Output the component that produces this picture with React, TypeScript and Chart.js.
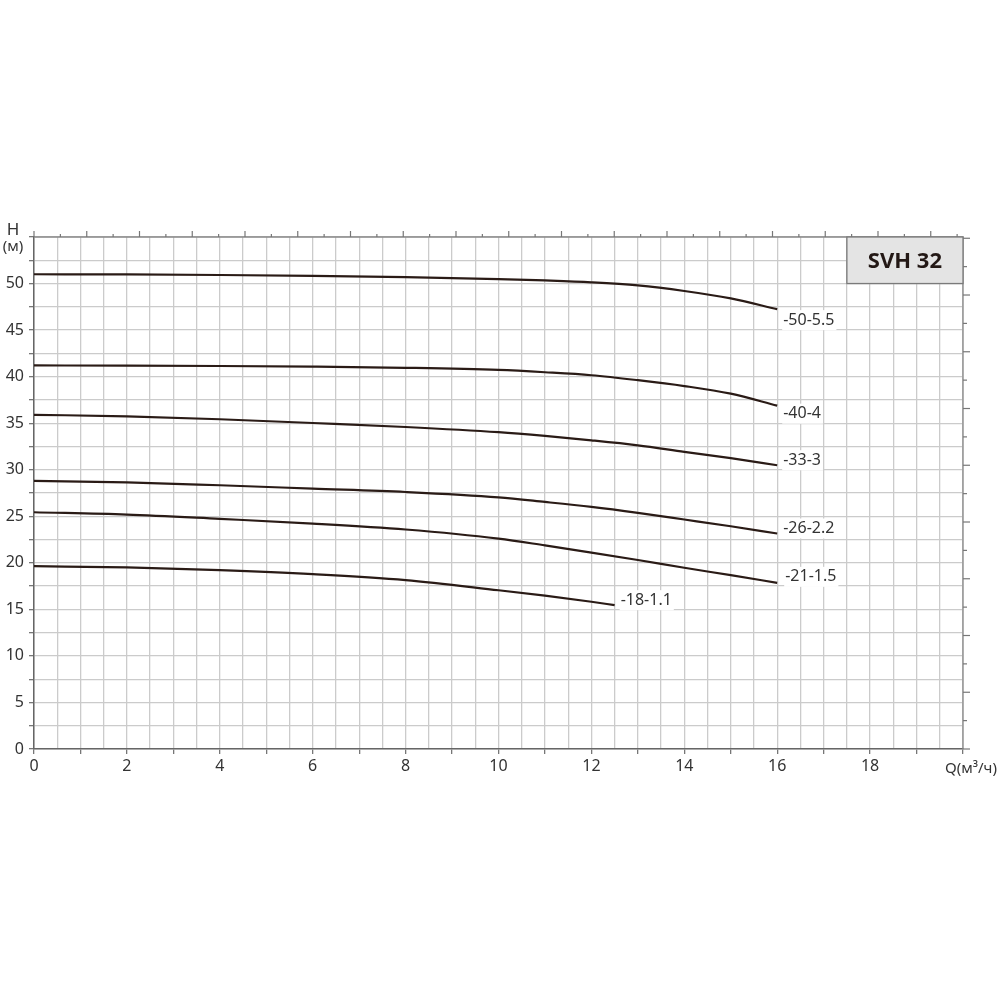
import React, { useEffect, useRef } from "react";
import { Chart, registerables } from "chart.js";

Chart.register(...registerables);

// ---- data ----
const Q_FULL = [0, 2, 4, 6, 8, 10, 11, 12, 13, 14, 15, 16];
const Q_SHORT = [0, 2, 4, 6, 8, 10, 11, 12, 12.5];
const H_50_55 = [51.0, 50.98, 50.92, 50.82, 50.68, 50.48, 50.33, 50.13, 49.8, 49.2, 48.4, 47.25];
const H_40_4 = [41.2, 41.18, 41.14, 41.07, 40.95, 40.72, 40.47, 40.15, 39.62, 38.99, 38.17, 36.88];
const H_33_3 = [35.9, 35.74, 35.42, 35.02, 34.59, 34.03, 33.63, 33.16, 32.62, 31.92, 31.24, 30.48];
const H_26_22 = [28.8, 28.65, 28.33, 27.97, 27.61, 27.04, 26.54, 26.0, 25.36, 24.65, 23.93, 23.15];
const H_21_15 = [25.43, 25.18, 24.72, 24.22, 23.58, 22.6, 21.87, 21.1, 20.3, 19.47, 18.67, 17.85];
const H_18_11 = [19.64, 19.5, 19.21, 18.78, 18.14, 17.05, 16.47, 15.82, 15.45];

const CURVE_NAMES = ["-50-5.5", "-40-4", "-33-3", "-26-2.2", "-21-1.5", "-18-1.1"];
const CURVE_Q = [Q_FULL, Q_FULL, Q_FULL, Q_FULL, Q_FULL, Q_SHORT];
const CURVE_H = [H_50_55, H_40_4, H_33_3, H_26_22, H_21_15, H_18_11];

const X_TICK_LABELS = ["0", "2", "4", "6", "8", "10", "12", "14", "16", "18"];
const Y_TICK_LABELS = ["0", "5", "10", "15", "20", "25", "30", "35", "40", "45", "50"];
const TITLE = "SVH 32";
const Y_TITLE = ["H", "(м)"];
const X_TITLE = "Q(м³/ч)";

// ---- styles ----
const FONT = "'Noto Sans', 'Open Sans', sans-serif";
const LABEL_OFFSETS = [
  [6, 11],
  [6, 8],
  [6, -5],
  [6, -5],
  [8, -6],
  [6, -5],
];
const M3H_TO_USGPM = 4.40287;
const M_TO_FT = 3.28084;

const decorPlugin = {
  id: "decor",
  afterDraw(chart: any) {
    const { ctx, chartArea, scales } = chart;
    const xs = scales.x;
    const ys = scales.y;
    ctx.save();
    // top and right borders
    ctx.strokeStyle = "#8a8a8a";
    ctx.lineWidth = 1.3;
    ctx.beginPath();
    ctx.moveTo(chartArea.left, chartArea.top);
    ctx.lineTo(chartArea.right, chartArea.top);
    ctx.lineTo(chartArea.right, chartArea.bottom);
    ctx.stroke();

    // top secondary ticks (US gpm)
    ctx.strokeStyle = "#777";
    ctx.lineWidth = 1.2;
    const qMax = xs.max;
    for (let g = 0; g / M3H_TO_USGPM <= qMax + 1e-6; g += 2.5) {
      const px = xs.getPixelForValue(g / M3H_TO_USGPM);
      const len = g % 5 === 0 ? 6 : 3;
      ctx.beginPath();
      ctx.moveTo(px, chartArea.top);
      ctx.lineTo(px, chartArea.top - len);
      ctx.stroke();
    }
    // right secondary ticks (ft)
    const hMax = ys.max;
    for (let f = 0; f / M_TO_FT <= hMax + 1e-6; f += 10) {
      const py = ys.getPixelForValue(f / M_TO_FT);
      const len = f % 20 === 0 ? 7 : 4;
      ctx.beginPath();
      ctx.moveTo(chartArea.right, py);
      ctx.lineTo(chartArea.right + len, py);
      ctx.stroke();
    }

    // title box
    const bx0 = xs.getPixelForValue(17.5);
    const bx1 = xs.getPixelForValue(20);
    const by0 = ys.getPixelForValue(55);
    const by1 = ys.getPixelForValue(50);
    ctx.fillStyle = "#e4e4e4";
    ctx.fillRect(bx0, by0, bx1 - bx0, by1 - by0);
    ctx.strokeStyle = "#7a7a7a";
    ctx.lineWidth = 1.3;
    ctx.strokeRect(bx0, by0, bx1 - bx0, by1 - by0);
    ctx.fillStyle = "#231815";
    ctx.font = `bold 22px ${FONT}`;
    ctx.textAlign = "center";
    ctx.textBaseline = "middle";
    ctx.fillText(TITLE, (bx0 + bx1) / 2, (by0 + by1) / 2 + 1);

    // curve labels
    ctx.font = `16px ${FONT}`;
    ctx.textAlign = "left";
    ctx.textBaseline = "middle";
    CURVE_NAMES.forEach((name, i) => {
      const qArr = CURVE_Q[i];
      const hArr = CURVE_H[i];
      const px = xs.getPixelForValue(qArr[qArr.length - 1]) + LABEL_OFFSETS[i][0];
      const py = ys.getPixelForValue(hArr[hArr.length - 1]) + LABEL_OFFSETS[i][1];
      const w = ctx.measureText(name).width;
      ctx.fillStyle = "#ffffff";
      ctx.fillRect(px - 1, py - 10, w + 3, 20);
      ctx.fillStyle = "#333";
      ctx.fillText(name, px, py);
    });

    // axis titles
    ctx.fillStyle = "#333";
    ctx.textAlign = "center";
    ctx.font = `17px ${FONT}`;
    ctx.fillText(Y_TITLE[0], 13, chartArea.top - 7);
    ctx.font = `15px ${FONT}`;
    ctx.fillText(Y_TITLE[1], 13, chartArea.top + 10);
    ctx.font = `15px ${FONT}`;
    ctx.textAlign = "left";
    ctx.fillText(X_TITLE, chartArea.right - 18, chartArea.bottom + 20);
    ctx.restore();
  },
};

export default function App() {
  const ref = useRef<HTMLCanvasElement>(null);
  useEffect(() => {
    if (!ref.current) return;
    const datasets = CURVE_NAMES.map((name, i) => ({
      label: name,
      data: CURVE_Q[i].map((q, k) => ({ x: q, y: CURVE_H[i][k] })),
      borderColor: "#2a1b16",
      borderWidth: 2.2,
      pointRadius: 0,
      fill: false,
      cubicInterpolationMode: "monotone" as const,
    }));
    const chart = new Chart(ref.current, {
      type: "line",
      data: { datasets },
      plugins: [decorPlugin],
      options: {
        responsive: false,
        animation: false,
        layout: { padding: { left: 0, right: 37, top: 237, bottom: 211 } },
        plugins: { legend: { display: false }, tooltip: { enabled: false } },
        scales: {
          x: {
            type: "linear",
            min: 0,
            max: 20,
            afterFit: (s: any) => {
              s.height = 40;
            },
            border: { color: "#666", width: 1.5 },
            grid: {
              color: "#cbcbcb",
              lineWidth: 1.3,
              tickLength: 5,
              tickColor: (c: any) => (c.tick && Math.abs(c.tick.value % 1) < 1e-6 ? "#777" : "rgba(0,0,0,0)"),
            },
            ticks: {
              stepSize: 0.5,
              autoSkip: false,
              maxRotation: 0,
              padding: 3,
              color: "#333",
              font: { family: FONT, size: 16 },
              callback: (v: any) => {
                const n = Number(v);
                if (Math.abs(n % 2) > 1e-6) return "";
                const idx = Math.round(n / 2);
                return idx < X_TICK_LABELS.length ? X_TICK_LABELS[idx] : "";
              },
            },
          },
          y: {
            type: "linear",
            min: 0,
            max: 55,
            afterFit: (s: any) => {
              s.width = 34;
            },
            border: { color: "#666", width: 1.5 },
            grid: {
              color: "#cbcbcb",
              lineWidth: 1.3,
              tickLength: 5,
              tickColor: "#777",
            },
            ticks: {
              stepSize: 2.5,
              autoSkip: false,
              padding: 5,
              color: "#333",
              font: { family: FONT, size: 16 },
              callback: (v: any) => {
                const n = Number(v);
                if (Math.abs(n % 5) > 1e-6) return "";
                const idx = Math.round(n / 5);
                return idx < Y_TICK_LABELS.length ? Y_TICK_LABELS[idx] : "";
              },
            },
          },
        },
      },
    });
    return () => chart.destroy();
  }, []);
  return (
    <div style={{ position: "absolute", left: 0, top: 0, width: 1000, height: 1000, background: "#fff" }}>
      <canvas ref={ref} width={1000} height={1000} />
    </div>
  );
}
